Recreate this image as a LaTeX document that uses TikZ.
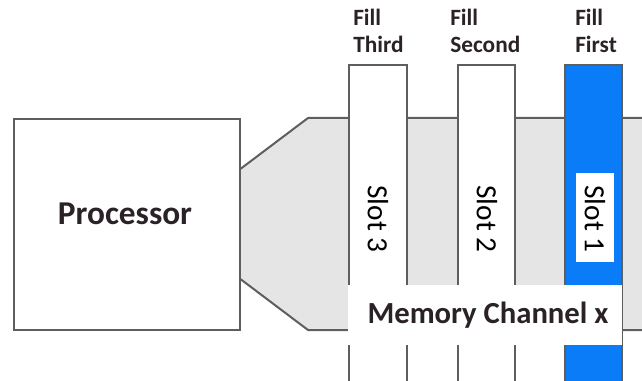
\documentclass[tikz,border=0pt]{standalone}
\usepackage{fontspec}
\setmainfont{Carlito}
\definecolor{edge}{HTML}{5E5E5E}
\definecolor{chan}{HTML}{E5E5E5}
\definecolor{slotblue}{HTML}{0A7CF8}
\definecolor{ink}{HTML}{2A2226}
\begin{document}
\begin{tikzpicture}[x=0.75pt,y=-0.75pt,
  outline/.style={draw=edge,line width=1.5pt},
  filltxt/.style={font=\fontsize{17.5}{20}\selectfont\bfseries,text=ink,inner sep=0pt,anchor=base west},
  slottxt/.style={font=\fontsize{22}{26}\selectfont,text=black,rotate=-90,inner sep=0pt}]
\useasboundingbox (0,0) rectangle (642,381);
% channel
\fill[chan] (239,170) -- (308,118) -- (642,118) -- (642,330) -- (308,330) -- (239,278) -- cycle;
\draw[outline,line join=round] (239,170) -- (308,118) -- (642,118);
\draw[outline,line join=round] (239,278) -- (308,330) -- (642,330);
% processor
\node[outline,fill=white,minimum width=169.5pt,minimum height=158.25pt,inner sep=0pt,anchor=north west] (proc) at (13,118) {};
\node[font=\fontsize{25}{30}\selectfont\bfseries,text=ink,inner sep=0pt,anchor=base] (proctxt) at (125,224) {Processor};
% slots
\fill[white] (349,65) rectangle (407,385);
\draw[outline] (349,385) -- (349,65) -- (407,65) -- (407,385);
\fill[white] (458,65) rectangle (515,385);
\draw[outline] (458,385) -- (458,65) -- (515,65) -- (515,385);
\fill[slotblue] (565,65) rectangle (622,385);
\draw[outline] (565,385) -- (565,65) -- (622,65) -- (622,385);
% slot labels
\fill[white] (576,173) rectangle (614,262);
\node[slottxt] (s3) at (378,219) {Slot 3};
\node[slottxt] (s2) at (487,219) {Slot 2};
\node[slottxt] (s1) at (595,219) {Slot 1};
% memory channel label
\fill[white] (348,285) rectangle (622,345);
\node[font=\fontsize{23}{27}\selectfont\bfseries,text=ink,inner sep=0pt,anchor=base] (mc) at (488,323) {Memory Channel x};
% fill labels
\node[filltxt] (f3a) at (353,26) {Fill};
\node[filltxt] (f3b) at (353,53) {Third};
\node[filltxt] (f2a) at (450,26) {Fill};
\node[filltxt] (f2b) at (450,53) {Second};
\node[filltxt] (f1a) at (575,26) {Fill};
\node[filltxt] (f1b) at (575,53) {First};
\end{tikzpicture}
\end{document}
